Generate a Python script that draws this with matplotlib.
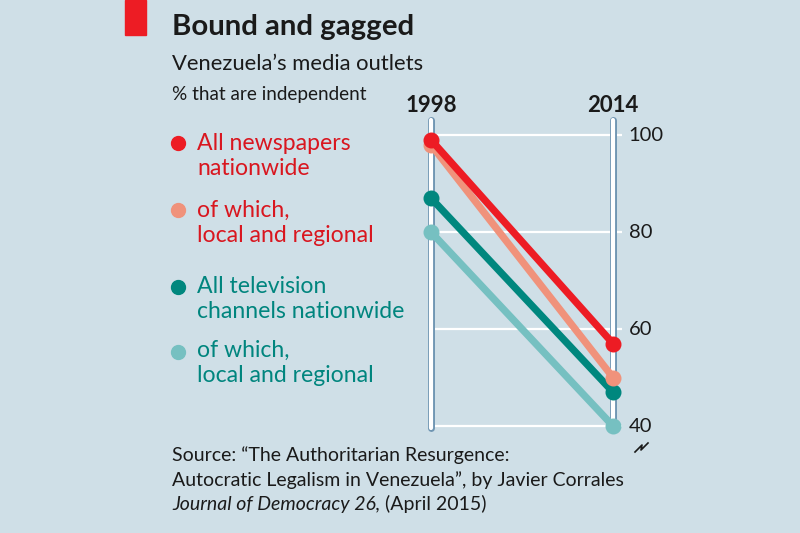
import matplotlib
matplotlib.use("Agg")
import matplotlib.pyplot as plt
import matplotlib.patheffects as pe
from matplotlib.lines import Line2D
from matplotlib.patches import Rectangle

# ---- data ----
years = [1998, 2014]
series_names = ["All newspapers\nnationwide", "of which,\nlocal and regional",
                "All television\nchannels nationwide", "of which,\nlocal and regional"]
newspapers_all = [99, 57]
newspapers_local = [98, 50]
tv_all = [87, 47]
tv_local = [80, 40]
yticks = [40, 60, 80, 100]

BG = "#cfdfe7"
RED = "#ed1c24"
SALMON = "#f0927b"
TEAL = "#00877e"
LTEAL = "#76c0c1"
RED_TXT = "#d9161f"
TEAL_TXT = "#00857e"
DARK = "#1a1a1a"
FONT = "Lato"

W, H = 800, 533
fig = plt.figure(figsize=(W / 100, H / 100), dpi=100, facecolor=BG)

def fx(px):
    return px / W

def fy(py):
    return 1 - py / H

# axes placed in pixel space
ax = fig.add_axes([fx(400), fy(460), fx(622) - fx(400), fy(100) - fy(460)])
ax.set_facecolor(BG)
ax.patch.set_alpha(0)
ax.set_xlim(1995.275, 2014.79)
ax.set_ylim(32.99, 107.22)
ax.axis("off")

# gridlines
for t in yticks:
    ax.plot([years[0], 2014.79], [t, t], color="white", lw=1.6, zorder=1,
            solid_capstyle="butt")
    ax.text(2014.79 + 0.6, t, str(t), fontsize=14.5, family=FONT, color=DARK,
            ha="left", va="center")

# vertical bars
bar_eff = [pe.Stroke(linewidth=5.0, foreground="#6f95b2"), pe.Normal()]
ax.plot([years[0], years[0]], [39.6, 103.1], color="white", lw=3.0,
        solid_capstyle="round", path_effects=bar_eff, zorder=2)
ax.plot([years[1], years[1]], [39.2, 103.1], color="white", lw=3.0,
        solid_capstyle="round", path_effects=bar_eff, zorder=2)

# series
series = [(tv_local, LTEAL), (tv_all, TEAL), (newspapers_local, SALMON), (newspapers_all, RED)]
for i, (vals, col) in enumerate(series):
    ax.plot(years, vals, color=col, lw=5.2, marker="o", markersize=10.5,
            solid_capstyle="round", zorder=3 + i)

# year labels
for yr in years:
    ax.text(yr, 107.22 - (112 - 100) / 4.85, str(yr), fontsize=16, family=FONT,
            weight="bold", color=DARK, ha="center", va="baseline")

# zigzag below axis
zx = [635, 642, 641, 648]
zy = [452, 445, 450, 443]
fig.add_artist(Line2D([fx(v) for v in zx], [fy(v) for v in zy], color=DARK, lw=1.2))

# red block
fig.add_artist(Rectangle((fx(125), fy(35)), fx(146) - fx(125), fy(0) - fy(35),
                         color=RED, transform=fig.transFigure))

# titles
fig.text(fx(172), fy(35), "Bound and gagged", fontsize=21.2, weight="bold",
         family=FONT, color=DARK, va="baseline")
fig.text(fx(172), fy(70), "Venezuela\u2019s media outlets", fontsize=15.8,
         family=FONT, color=DARK, va="baseline")
fig.text(fx(172), fy(100), "% that are independent", fontsize=13.6,
         family=FONT, color=DARK, va="baseline")

# legend
dot_y = [143, 210, 287, 352]
dot_cols = [RED, SALMON, TEAL, LTEAL]
txt_cols = [RED_TXT, RED_TXT, TEAL_TXT, TEAL_TXT]
base_y = [150, 217, 293, 357]
for name, dy, dc, tc, by in zip(series_names, dot_y, dot_cols, txt_cols, base_y):
    fig.add_artist(Line2D([fx(178)], [fy(dy)], marker="o", markersize=10,
                          color=dc, linestyle="none"))
    l1, l2 = name.split("\n")
    fig.text(fx(197), fy(by), l1, fontsize=16.6, family=FONT, color=tc, va="baseline")
    fig.text(fx(197), fy(by + 25), l2, fontsize=16.6, family=FONT, color=tc, va="baseline")

# source
SRC = 14.0
fig.text(fx(172), fy(461), "Source: \u201cThe Authoritarian Resurgence:", fontsize=SRC,
         family=FONT, color=DARK, va="baseline")
fig.text(fx(172), fy(486), "Autocratic Legalism in Venezuela\u201d, by Javier Corrales",
         fontsize=SRC, family=FONT, color=DARK, va="baseline")
t1 = fig.text(fx(172), fy(510), "Journal of Democracy 26,", fontsize=SRC, family=FONT,
              style="italic", color=DARK, va="baseline")
fig.canvas.draw()
bb = t1.get_window_extent()
fig.text(bb.x1 / W + fx(5), fy(510), "(April 2015)", fontsize=SRC, family=FONT,
         color=DARK, va="baseline")

fig.savefig("out.png", dpi=100, facecolor=BG)
